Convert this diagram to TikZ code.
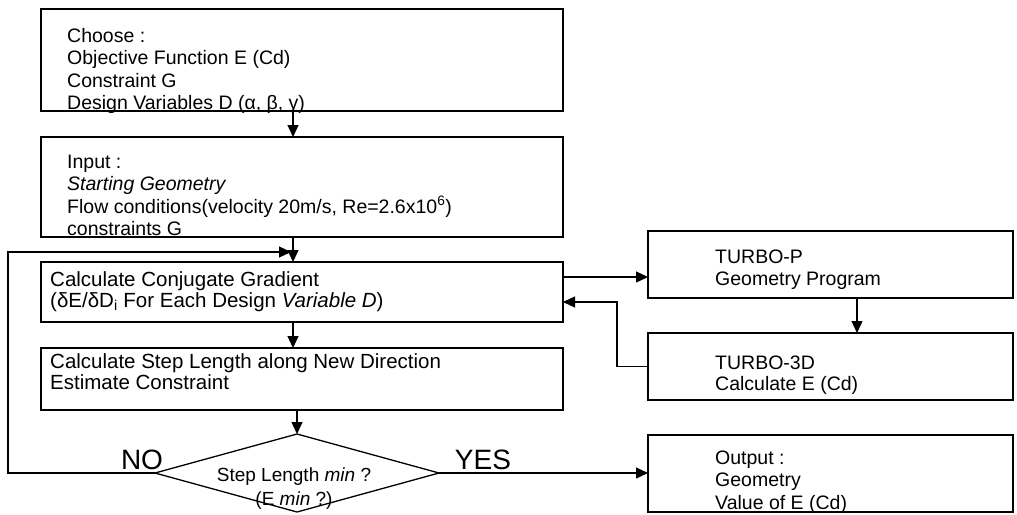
\documentclass[tikz,border=0pt]{standalone}
\usepackage{fontspec}
\setmainfont{Liberation Sans}
\usetikzlibrary{arrows.meta,shapes.geometric}
\begin{document}
\begin{tikzpicture}[x=1pt,y=-1pt,
  box/.style={draw, line width=1.3pt, rectangle, inner sep=0pt, outer sep=0pt, anchor=north west},
  txt/.style={anchor=base west, inner sep=0pt, font=\fontsize{19.5}{22}\selectfont},
  wtxt/.style={anchor=base west, inner sep=0pt, font=\fontsize{20.5}{22}\selectfont},
  ctxt/.style={anchor=base, inner sep=0pt, font=\fontsize{19}{22}\selectfont},
  big/.style={anchor=base, inner sep=0pt, font=\fontsize{28}{30}\selectfont},
  arr/.style={line width=1.3pt, -{Triangle[length=12pt,width=11pt]}},
  ln/.style={line width=1.3pt}]
\useasboundingbox (0,0) rectangle (1017,514);
% boxes
\node[box, minimum width=522pt, minimum height=102pt] (choose) at (41,9) {};
\node[box, minimum width=522pt, minimum height=100pt] (input) at (41,137) {};
\node[box, minimum width=522pt, minimum height=60pt] (cg) at (41,262) {};
\node[box, minimum width=522pt, minimum height=62pt] (step) at (41,348) {};
\node[box, minimum width=365pt, minimum height=67pt] (tp) at (648,231) {};
\node[box, minimum width=365pt, minimum height=67pt] (t3d) at (648,333) {};
\node[box, minimum width=365pt, minimum height=77pt] (out) at (648,435) {};
\node[draw, line width=1.3pt, diamond, inner sep=0pt, outer sep=0pt, minimum width=284pt, minimum height=78pt] (dia) at (297,473) {};
% texts
\node[txt] (c1) at (67,42) {Choose :};
\node[txt] (c2) at (67,64.5) {Objective Function E (Cd)};
\node[txt] (c3) at (67,87) {Constraint G};
\node[txt] (c4) at (67,109.5) {Design Variables D (α, β, γ)};
\node[txt] (i1) at (67,168) {Input :};
\node[txt] (i2) at (67,190.5) {\itshape Starting Geometry};
\node[txt] (i3) at (67,213) {Flow conditions(velocity 20m/s, Re=2.6x10\textsuperscript{6})};
\node[txt] (i4) at (67,235.5) {constraints G};
\node[wtxt] (g1) at (50,286) {Calculate Conjugate Gradient};
\node[wtxt] (g2) at (50,307) {(δE/δD\textsubscript{i} For Each Design \textit{Variable D})};
\node[wtxt] (s1) at (50,368) {Calculate Step Length along New Direction};
\node[wtxt] (s2) at (50,389) {Estimate Constraint};
\node[txt] (p1) at (715,263) {TURBO-P};
\node[txt] (p2) at (715,285) {Geometry Program};
\node[txt] (d1) at (715,369) {TURBO-3D};
\node[txt] (d2) at (715,390) {Calculate E (Cd)};
\node[txt] (o1) at (715,464) {Output :};
\node[txt] (o2) at (715,486) {Geometry};
\node[txt] (o3) at (715,509) {Value of E (Cd)};
\node[ctxt] (q1) at (294,481) {Step Length \textit{min} ?};
\node[ctxt] (q2) at (294,505) {(E \textit{min} ?)};
\node[big] (no) at (142,469) {NO};
\node[big] (yes) at (483,469) {YES};
% helper coordinates
\coordinate (col) at (293,0);
\coordinate (lp) at (8,252);
\coordinate (rc) at (617,0);
\coordinate (pc) at (857,0);
% connectors
\draw[arr] (choose.south -| col) -- (input.north -| col);
\draw[arr] (input.south -| col) -- (cg.north -| col);
\draw[arr] (cg.south -| col) -- (step.north -| col);
\draw[arr] (step.south -| dia.north) -- (dia.north);
\draw[arr] (dia.west) -| (lp) -- ([xshift=-2pt]col |- lp);
\draw[arr] (dia.east) -- (out.west |- dia.east);
\draw[arr] ([yshift=15pt]cg.east) -- ([yshift=15pt]cg.east -| tp.west);
\draw[arr] (tp.south -| pc) -- (t3d.north -| pc);
\draw[arr] (t3d.west) -- (rc |- t3d.west) |- ([yshift=-10pt]cg.east);
\end{tikzpicture}
\end{document}
